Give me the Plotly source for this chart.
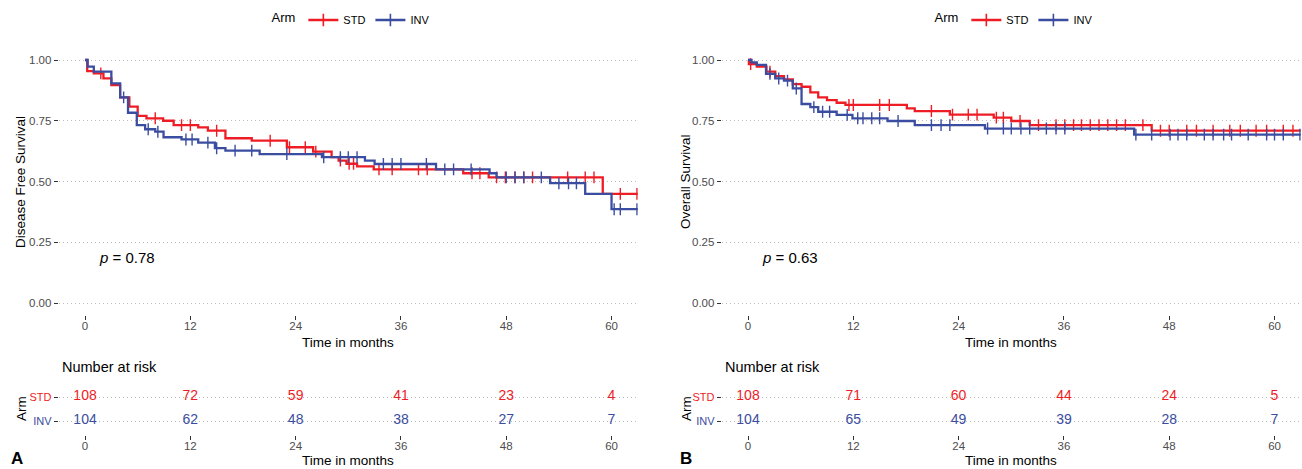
import plotly.graph_objects as go

# ---------------- data ----------------
RED = "#EE1C25"
BLUE = "#3A4DA0"
ARMS = ["STD", "INV"]
TIME_TICKS = [0, 12, 24, 36, 48, 60]
T_END = 63

# Panel A: Disease Free Survival
dfs_std_times = [0.25, 1.0, 2.1, 3.0, 4.0, 5.05, 6.0, 7.0, 8.9, 10.1, 12.9, 14.0, 16.0, 19.0, 23.0, 26.0,
                 28.1, 28.9, 29.8, 31.0, 32.9, 43.1, 46.0, 59.0]
dfs_std_surv = [0.954, 0.945, 0.924, 0.897, 0.846, 0.808, 0.770, 0.760, 0.750, 0.732, 0.723, 0.709, 0.678,
                0.668, 0.641, 0.623, 0.600, 0.586, 0.573, 0.562, 0.550, 0.534, 0.517, 0.449]
dfs_std_cens = [1.8, 8.0, 11.0, 12.0, 15.0, 21.1, 23.3, 25.1, 26.3, 29.1, 30.1, 30.6, 33.5, 35.0, 38.0, 39.0,
                44.1, 45.0, 46.9, 47.9, 49.0, 50.0, 51.0, 55.0, 57.0, 58.0, 61.0, 62.9]
dfs_inv_times = [0.3, 1.0, 3.0, 4.0, 4.9, 5.9, 6.85, 8.0, 8.95, 11.0, 12.9, 14.8, 16.0, 19.9, 27.0, 31.9,
                 33.0, 40.0, 46.1, 46.9, 53.0, 57.0, 60.0]
dfs_inv_surv = [0.973, 0.952, 0.904, 0.846, 0.783, 0.732, 0.715, 0.705, 0.682, 0.673, 0.660, 0.637, 0.627,
                0.613, 0.600, 0.586, 0.572, 0.550, 0.534, 0.517, 0.493, 0.449, 0.386]
dfs_inv_cens = [4.4, 7.2, 8.3, 11.5, 12.2, 14.0, 15.0, 17.1, 19.0, 23.0, 27.2, 29.1, 30.0, 31.0, 34.0, 35.0,
                36.0, 38.9, 41.0, 42.0, 44.0, 48.0, 49.0, 50.0, 52.0, 54.0, 55.1, 56.0, 60.3, 61.0, 62.9]
dfs_pval = "p = 0.78"
dfs_risk_std = [108, 72, 59, 41, 23, 4]
dfs_risk_inv = [104, 62, 48, 38, 27, 7]

# Panel B: Overall Survival
os_std_times = [0.1, 1.0, 2.1, 3.1, 4.1, 5.1, 6.1, 7.1, 8.0, 9.0, 10.1, 11.1, 18.1, 19.0, 23.0, 28.0,
                30.0, 32.1, 46.0]
os_std_surv = [0.983, 0.973, 0.952, 0.934, 0.920, 0.901, 0.890, 0.867, 0.846, 0.835, 0.824, 0.815, 0.801,
               0.790, 0.775, 0.763, 0.749, 0.732, 0.709]
os_std_cens = [0.3, 2.5, 11.5, 12.0, 15.0, 16.1, 20.9, 23.3, 25.1, 26.1, 28.3, 29.1, 31.0, 33.1, 35.1, 36.1,
               37.1, 38.0, 39.0, 40.0, 41.0, 42.0, 43.0, 45.0, 47.0, 48.0, 50.0, 51.1, 53.0, 54.9, 56.1,
               57.9, 59.1, 61.0, 62.1]
os_inv_times = [0.4, 1.0, 2.05, 3.1, 4.1, 5.1, 6.1, 7.1, 8.0, 10.1, 11.9, 15.9, 19.0, 27.0, 44.0]
os_inv_surv = [0.990, 0.980, 0.943, 0.924, 0.915, 0.883, 0.819, 0.806, 0.787, 0.774, 0.760, 0.749, 0.732,
               0.718, 0.693]
os_inv_cens = [2.5, 3.5, 4.5, 5.5, 7.5, 8.5, 9.3, 11.3, 12.5, 13.1, 14.1, 15.0, 17.1, 20.9, 22.0, 23.0, 27.3,
               29.1, 30.0, 31.1, 32.1, 34.0, 35.1, 36.1, 44.2, 46.0, 48.1, 49.0, 50.0, 52.0, 53.0, 54.2,
               55.1, 57.0, 59.1, 60.0, 61.0, 62.9]
os_pval = "p = 0.63"
os_risk_std = [108, 71, 60, 44, 24, 5]
os_risk_inv = [104, 65, 49, 39, 28, 7]

# ---------------- helpers ----------------
W, H = 1302, 469
FONT = "Liberation Sans, Arial, Helvetica, sans-serif"
TICK_GREY = "#4D4D4D"
GRID = dict(showgrid=True, gridcolor="#BDBDBD", griddash="1px,3px", gridwidth=1)


def px_x(p):
    return p / W


def px_y(p):
    return 1 - p / H


def surv_at(t, times, surv):
    s = 1.0
    for tt, ss in zip(times, surv):
        if tt <= t:
            s = ss
    return s


fig = go.Figure()

panels = [
    dict(name="A", ylabel="Disease Free Survival", pval=dfs_pval,
         arms=[(dfs_std_times, dfs_std_surv, dfs_std_cens, RED), (dfs_inv_times, dfs_inv_surv, dfs_inv_cens, BLUE)],
         risk=[dfs_risk_std, dfs_risk_inv], left=58.7, xa="x", ya="y", xt="x2", yt="y2", legend="legend"),
    dict(name="B", ylabel="Overall Survival", pval=os_pval,
         arms=[(os_std_times, os_std_surv, os_std_cens, RED), (os_inv_times, os_inv_surv, os_inv_cens, BLUE)],
         risk=[os_risk_std, os_risk_inv], left=721.7, xa="x3", ya="y3", xt="x4", yt="y4", legend="legend2"),
]

PX_PER_MONTH = 8.775
X_RANGE = [-3, 63]
PLOT_W = (X_RANGE[1] - X_RANGE[0]) * PX_PER_MONTH
annotations = []

# risk table geometry: STD row at 397px, INV row at 421px
TBL_TOP, TBL_BOT = 382.6, 435.0
ROW_STD, ROW_INV = 397.0, 421.0
UNIT = ROW_INV - ROW_STD
TBL_RANGE = [-(TBL_BOT - ROW_INV) / UNIT, 1 + (ROW_STD - TBL_TOP) / UNIT]

for pi, P in enumerate(panels):
    left = P["left"]
    # survival curves
    for (times, surv, cens, col), arm in zip(P["arms"], ARMS):
        xs = [0] + list(times) + [T_END]
        ys = [1.0] + list(surv) + [surv[-1]]
        fig.add_trace(go.Scatter(x=xs, y=ys, mode="lines", line=dict(color=col, width=2.3, shape="hv"),
                                 xaxis=P["xa"], yaxis=P["ya"], showlegend=False, hoverinfo="skip"))
        fig.add_trace(go.Scatter(x=cens, y=[surv_at(c, times, surv) for c in cens], mode="markers",
                                 marker=dict(symbol="line-ns", size=8.5, line=dict(color=col, width=1.4)),
                                 xaxis=P["xa"], yaxis=P["ya"], showlegend=False, hoverinfo="skip"))
        fig.add_trace(go.Scatter(x=[None], y=[None], mode="lines+markers", name=arm,
                                 line=dict(color=col, width=2.3),
                                 marker=dict(symbol="cross-thin", size=9, line=dict(color=col, width=1.6)),
                                 xaxis=P["xa"], yaxis=P["ya"], legend=P["legend"], showlegend=True))
    # risk table
    for arm_idx, (vals, col) in enumerate(zip(P["risk"], [RED, BLUE])):
        yv = 1 - arm_idx
        fig.add_trace(go.Scatter(x=TIME_TICKS, y=[yv] * len(TIME_TICKS), mode="text",
                                 text=[str(v) for v in vals],
                                 textfont=dict(color=col, size=14, family=FONT), textposition="middle center",
                                 xaxis=P["xt"], yaxis=P["yt"], showlegend=False, hoverinfo="skip"))

    dom_x = [px_x(left), px_x(left + PLOT_W)]
    center = left + PLOT_W / 2
    ax_common = dict(domain=dom_x, range=X_RANGE, tickvals=TIME_TICKS, ticktext=[str(t) for t in TIME_TICKS],
                     showgrid=False, zeroline=False, showline=False, ticks="outside", ticklen=4,
                     tickcolor="#333333", tickwidth=1, ticklabelstandoff=-4,
                     tickfont=dict(size=11.5, color=TICK_GREY, family=FONT))
    k = 1 + 2 * pi
    fig.update_layout({
        f"xaxis{'' if k == 1 else k}": dict(ax_common, anchor=P["ya"]),
        f"yaxis{'' if k == 1 else k}": dict(GRID, domain=[px_y(315.15), px_y(47.85)], range=[-0.05, 1.05],
                                            tickvals=[0, 0.25, 0.5, 0.75, 1.0],
                                            ticktext=["0.00", "0.25", "0.50", "0.75", "1.00"],
                                            zeroline=False, showline=False, ticks="outside", ticklen=4,
                                            tickcolor="#333333", tickwidth=1,
                                            tickfont=dict(size=11.5, color=TICK_GREY, family=FONT),
                                            anchor=P["xa"]),
        f"xaxis{k + 1}": dict(ax_common, anchor=P["yt"]),
        f"yaxis{k + 1}": dict(GRID, domain=[px_y(TBL_BOT), px_y(TBL_TOP)], range=TBL_RANGE,
                              tickvals=[1, 0],
                              ticktext=[f"<span style='color:{RED}'>STD</span>",
                                        f"<span style='color:{BLUE}'>INV</span>"],
                              zeroline=False, showline=False, ticks="outside", ticklen=4,
                              tickcolor="#333333", tickwidth=1,
                              tickfont=dict(size=11, family=FONT), anchor=P["xt"]),
    })

    ylab_x = 20 if pi == 0 else 685
    annotations += [
        dict(text=P["ylabel"], x=px_x(ylab_x), y=px_y(182), textangle=-90, font=dict(size=13.5, color="black")),
        dict(text="Time in months", x=px_x(center), y=px_y(342), font=dict(size=13.5, color="black")),
        dict(text="Time in months", x=px_x(center), y=px_y(460), font=dict(size=13.5, color="black")),
        dict(text="Arm", x=px_x(ylab_x + 1), y=px_y(409), textangle=-90, font=dict(size=13.5, color="black")),
        dict(text="Number at risk", x=px_x(left + 1.5), y=px_y(367), xanchor="left",
             font=dict(size=14.5, color="black")),
        dict(text=P["pval"].replace("p", "<i>p</i>", 1), x=px_x(left + 38), y=px_y(257), xanchor="left",
             font=dict(size=15, color="black")),
        dict(text="<b>%s</b>" % P["name"], x=px_x(17 if pi == 0 else 686), y=px_y(458),
             font=dict(size=17, color="black")),
    ]

for a in annotations:
    a.update(xref="paper", yref="paper", showarrow=False)
    a.setdefault("xanchor", "center")
    a["yanchor"] = "middle"
    a["font"]["family"] = FONT

leg_common = dict(orientation="h", xanchor="center", yanchor="middle", y=px_y(20),
                  title=dict(text="Arm", side="left", font=dict(size=13, color="black", family=FONT)),
                  font=dict(size=11, color="black", family=FONT), bgcolor="rgba(0,0,0,0)",
                  itemwidth=30, tracegroupgap=0)

fig.update_layout(
    width=W, height=H, margin=dict(l=0, r=0, t=0, b=0),
    paper_bgcolor="white", plot_bgcolor="white",
    font=dict(family=FONT),
    annotations=annotations,
    legend=dict(leg_common, x=px_x(352)),
    legend2=dict(leg_common, x=px_x(1015)),
)

fig.write_html("out.html", config={"displayModeBar": False},
               post_script="document.body.style.margin='0';document.body.style.overflow='hidden';")
